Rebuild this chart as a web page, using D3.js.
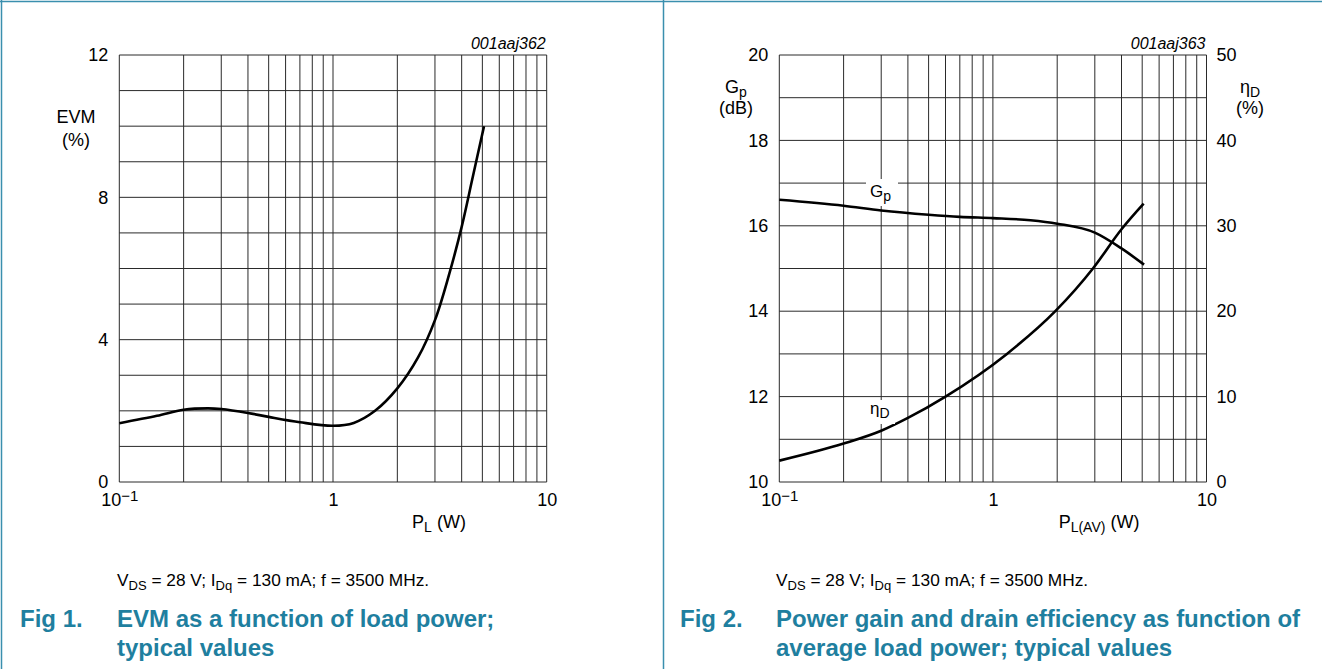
<!DOCTYPE html>
<html>
<head>
<meta charset="utf-8">
<script src="https://cdn.jsdelivr.net/npm/d3@7/dist/d3.min.js"></script>
<style>
  html, body { margin: 0; padding: 0; background: #fff; }
  svg { display: block; font-family: "Liberation Sans", Arial, sans-serif; }
</style>
</head>
<body>
<svg id="chart" width="1322" height="669"></svg>
<script>
// ---------------- Data ----------------
// Fig 1: EVM vs load power
const evmPower = [0.1, 0.15, 0.2, 0.26, 0.3, 0.4, 0.5, 0.7, 1.0, 1.25, 1.573, 2.0, 2.5, 3.0, 3.5, 4.0, 4.5, 5.09];
const evmValues = [1.65, 1.86, 2.03, 2.07, 2.05, 1.94, 1.83, 1.68, 1.58, 1.66, 2.0, 2.63, 3.5, 4.55, 5.85, 7.17, 8.55, 10.0];

// Fig 2: power gain and drain efficiency vs average load power
const gpPower = [0.1, 0.2, 0.3, 0.5, 0.7, 1.0, 1.5, 2.0, 3.0, 4.0, 5.1];
const gpValues = [16.61, 16.47, 16.36, 16.26, 16.21, 16.18, 16.13, 16.05, 15.84, 15.47, 15.09];
const etaPower = [0.1, 0.2, 0.3, 0.4, 0.6, 1.163, 1.96, 2.94, 4.0, 5.08];
const etaValues = [2.5, 4.5, 6.0, 7.5, 10.0, 15.0, 20.0, 25.0, 29.6, 32.6];

// Tick labels / grids
const xGrid = [0.1,0.2,0.3,0.4,0.5,0.6,0.7,0.8,0.9,1,2,3,4,5,6,7,8,9,10];
const xTicks = [0.1, 1, 10];
const evmTicks = [0, 4, 8, 12];
const evmGrid = d3.range(0, 13, 1);
const gpTicks = [10, 12, 14, 16, 18, 20];
const gpGrid = d3.range(10, 21, 1);
const etaTicks = [0, 10, 20, 30, 40, 50];

const fig1Id = "001aaj362";
const fig2Id = "001aaj363";
const conditions = ["V", "DS", " = 28 V; I", "Dq", " = 130 mA; f = 3500 MHz."];
const fig1Caption = ["Fig 1.", "EVM as a function of load power;", "typical values"];
const fig2Caption = ["Fig 2.", "Power gain and drain efficiency as function of", "average load power; typical values"];

// ---------------- Drawing ----------------
const svg = d3.select("#chart");
const teal = "#1f7f9f";
const gridColor = "#2a2a2a";
const FONT = 18;
const SUB = 14;

// Frame lines
svg.append("line").attr("x1", 0).attr("x2", 1322).attr("y1", 1.5).attr("y2", 1.5).attr("stroke", "#3a8fae").attr("stroke-width", 1.5);
svg.append("line").attr("x1", 1.5).attr("x2", 1.5).attr("y1", 0).attr("y2", 669).attr("stroke", "#3a8fae").attr("stroke-width", 1.5);
svg.append("line").attr("x1", 663.5).attr("x2", 663.5).attr("y1", 0).attr("y2", 669).attr("stroke", "#3a8fae").attr("stroke-width", 1.5);

function formatX(d) { return d === 1 ? "1" : d === 10 ? "10" : "10\u22121"; }

function drawPanel(opt) {
  const g = svg.append("g");
  const x = d3.scaleLog().domain([0.1, 10]).range([opt.left, opt.right]);
  const y = d3.scaleLinear().domain(opt.yDomain).range([opt.bottom, opt.top]);

  g.append("g").selectAll("line").data(xGrid).join("line")
    .attr("x1", d => x(d)).attr("x2", d => x(d))
    .attr("y1", opt.top).attr("y2", opt.bottom)
    .attr("stroke", gridColor).attr("stroke-width", 1);
  g.append("g").selectAll("line").data(opt.yGrid).join("line")
    .attr("x1", opt.left).attr("x2", opt.right)
    .attr("y1", d => y(d)).attr("y2", d => y(d))
    .attr("stroke", gridColor).attr("stroke-width", 1);

  const xa = g.append("g").attr("transform", `translate(0,${opt.bottom})`)
    .call(d3.axisBottom(x).tickValues(xTicks).tickSize(0).tickPadding(11).tickFormat(formatX));
  xa.select(".domain").remove();
  xa.selectAll("text").attr("font-size", FONT).attr("font-family", "Liberation Sans, Arial, sans-serif").attr("fill", "#000")
    .each(function(d) {
      if (d === 0.1) {
        const t = d3.select(this);
        t.text("");
        t.append("tspan").text("10");
        t.append("tspan").text("\u22121").attr("font-size", 15).attr("dy", -5);
      }
    });

  const ya = g.append("g").attr("transform", `translate(${opt.left},0)`)
    .call(d3.axisLeft(y).tickValues(opt.yTicks).tickSize(0).tickPadding(11));
  ya.select(".domain").remove();
  ya.selectAll("text").attr("font-size", FONT).attr("font-family", "Liberation Sans, Arial, sans-serif").attr("fill", "#000");

  g.append("text").attr("x", opt.right - 1).attr("y", opt.top - 6)
    .attr("text-anchor", "end").attr("font-size", 16).attr("font-style", "italic").text(opt.id);

  return { g, x, y };
}

// ---- Panel 1 ----
const p1 = drawPanel({ left: 119.3, right: 546.7, top: 55, bottom: 482, yDomain: [0, 12], yGrid: evmGrid, yTicks: evmTicks, id: fig1Id });
p1.g.append("path")
  .datum(evmPower.map((p, i) => [p, evmValues[i]]))
  .attr("fill", "none").attr("stroke", "#000").attr("stroke-width", 2.6)
  .attr("d", d3.line().x(d => p1.x(d[0])).y(d => p1.y(d[1])).curve(d3.curveCatmullRom.alpha(0.5)));

p1.g.append("text").attr("x", 76).attr("y", 123).attr("text-anchor", "middle").attr("font-size", FONT).text("EVM");
p1.g.append("text").attr("x", 76).attr("y", 146).attr("text-anchor", "middle").attr("font-size", FONT).text("(%)");
const pl1 = p1.g.append("text").attr("x", 439).attr("y", 528).attr("text-anchor", "middle").attr("font-size", FONT);
pl1.append("tspan").text("P");
pl1.append("tspan").text("L").attr("font-size", SUB).attr("dy", 4);
pl1.append("tspan").text(" (W)").attr("dy", -4);

// ---- Panel 2 ----
const p2 = drawPanel({ left: 779.3, right: 1206.5, top: 55, bottom: 482, yDomain: [10, 20], yGrid: gpGrid, yTicks: gpTicks, id: fig2Id });
const yEta = d3.scaleLinear().domain([0, 50]).range([482, 55]);
const ra = p2.g.append("g").attr("transform", `translate(1206.5,0)`)
  .call(d3.axisRight(yEta).tickValues(etaTicks).tickSize(0).tickPadding(10));
ra.select(".domain").remove();
ra.selectAll("text").attr("font-size", FONT).attr("font-family", "Liberation Sans, Arial, sans-serif").attr("fill", "#000");

const lineGen = (yS) => d3.line().x(d => p2.x(d[0])).y(d => yS(d[1])).curve(d3.curveMonotoneX);
p2.g.append("path").datum(gpPower.map((p, i) => [p, gpValues[i]]))
  .attr("fill", "none").attr("stroke", "#000").attr("stroke-width", 2.6).attr("d", lineGen(p2.y));
p2.g.append("path").datum(etaPower.map((p, i) => [p, etaValues[i]]))
  .attr("fill", "none").attr("stroke", "#000").attr("stroke-width", 2.6).attr("d", lineGen(yEta));

// curve labels with white background
p2.g.append("rect").attr("x", 866).attr("y", 179).attr("width", 32).attr("height", 27).attr("fill", "#fff");
const gpl = p2.g.append("text").attr("x", 870).attr("y", 197).attr("font-size", 17);
gpl.append("tspan").text("G");
gpl.append("tspan").text("p").attr("font-size", SUB).attr("dy", 4);

p2.g.append("rect").attr("x", 868).attr("y", 400).attr("width", 27).attr("height", 24).attr("fill", "#fff");
const etl = p2.g.append("text").attr("x", 870).attr("y", 414).attr("font-size", 17);
etl.append("tspan").text("\u03b7");
etl.append("tspan").text("D").attr("font-size", SUB).attr("dy", 4);

// axis titles
const gpT = p2.g.append("text").attr("x", 736).attr("y", 93).attr("text-anchor", "middle").attr("font-size", FONT);
gpT.append("tspan").text("G");
gpT.append("tspan").text("p").attr("font-size", SUB).attr("dy", 4);
p2.g.append("text").attr("x", 736).attr("y", 114).attr("text-anchor", "middle").attr("font-size", FONT).text("(dB)");

const etT = p2.g.append("text").attr("x", 1250).attr("y", 93).attr("text-anchor", "middle").attr("font-size", FONT);
etT.append("tspan").text("\u03b7");
etT.append("tspan").text("D").attr("font-size", SUB).attr("dy", 4);
p2.g.append("text").attr("x", 1250).attr("y", 114).attr("text-anchor", "middle").attr("font-size", FONT).text("(%)");

const pl2 = p2.g.append("text").attr("x", 1099).attr("y", 528).attr("text-anchor", "middle").attr("font-size", FONT);
pl2.append("tspan").text("P");
pl2.append("tspan").text("L(AV)").attr("font-size", SUB).attr("dy", 4);
pl2.append("tspan").text(" (W)").attr("dy", -4);

// ---- Captions ----
function conditionsText(xPos) {
  const t = svg.append("text").attr("x", xPos).attr("y", 586).attr("font-size", 17.3);
  conditions.forEach((s, i) => {
    const sp = t.append("tspan").text(s);
    if (i % 2 === 1) sp.attr("font-size", 13).attr("dy", 4);
    else if (i > 0) sp.attr("dy", -4);
  });
}
conditionsText(117);
conditionsText(776);

function caption(xLabel, xText, lines) {
  const cap = (x, y, s) => svg.append("text").attr("x", x).attr("y", y).attr("font-size", 24)
    .attr("font-weight", "bold").attr("fill", teal).text(s);
  cap(xLabel, 627, lines[0]);
  cap(xText, 627, lines[1]);
  cap(xText, 656, lines[2]);
}
caption(20, 117, fig1Caption);
caption(680, 776, fig2Caption);
</script>
</body>
</html>
